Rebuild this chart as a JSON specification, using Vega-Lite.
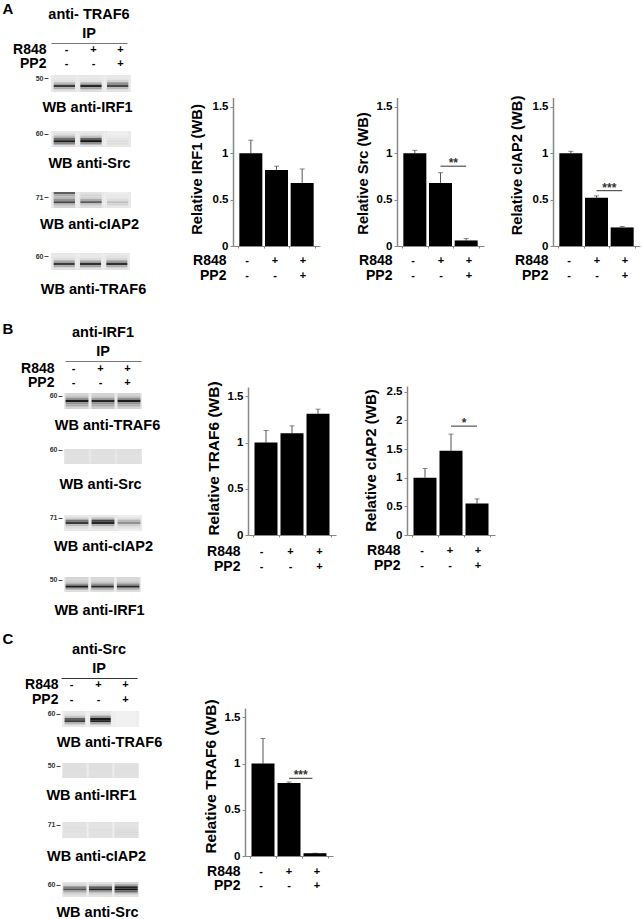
{"$schema":"https://vega.github.io/schema/vega-lite/v6.json","width":642,"height":919,"padding":0,"autosize":{"type":"none"},"background":"white",
"config":{"font":"Liberation Sans","view":{"stroke":null},"axis":{"grid":false,"labelFontWeight":"bold","titleFontWeight":"bold","labelColor":"#000","titleColor":"#000","labelOverlap":false,"labelFlush":false},"text":{"color":"#000"}},
"datasets":{
"signs":[{"l":1,"row":"R848","s":"-"},{"l":2,"row":"R848","s":"+"},{"l":3,"row":"R848","s":"+"},{"l":1,"row":"PP2","s":"-"},{"l":2,"row":"PP2","s":"-"},{"l":3,"row":"PP2","s":"+"}],
"bars":[
{"c":"A1","lane":1,"v":1,"top":1.14},{"c":"A1","lane":2,"v":0.82,"top":0.86},{"c":"A1","lane":3,"v":0.68,"top":0.83},
{"c":"A2","lane":1,"v":1,"top":1.03},{"c":"A2","lane":2,"v":0.68,"top":0.79},{"c":"A2","lane":3,"v":0.06,"top":0.08},
{"c":"A3","lane":1,"v":1,"top":1.02},{"c":"A3","lane":2,"v":0.52,"top":0.54},{"c":"A3","lane":3,"v":0.2,"top":0.21},
{"c":"B1","lane":1,"v":1,"top":1.13},{"c":"B1","lane":2,"v":1.1,"top":1.18},{"c":"B1","lane":3,"v":1.31,"top":1.36},
{"c":"B2","lane":1,"v":1,"top":1.16},{"c":"B2","lane":2,"v":1.47,"top":1.76},{"c":"B2","lane":3,"v":0.55,"top":0.63},
{"c":"C1","lane":1,"v":1,"top":1.27},{"c":"C1","lane":2,"v":0.79,"top":0.8},{"c":"C1","lane":3,"v":0.03,"top":0.03}],
"sig":[{"c":"A2","from":2,"to":3,"mid":2.5,"p":0.86,"stars":"**"},{"c":"A3","from":2,"to":3,"mid":2.5,"p":0.596,"stars":"***"},{"c":"B2","from":2,"to":3,"mid":2.5,"p":1.9,"stars":"*"},{"c":"C1","from":2,"to":2.9,"mid":2.45,"p":0.84,"stars":"***"}],
"blots":[
{"p":"A1","l":1,"r":0,"v":8},{"p":"A1","l":1,"r":1,"v":8},{"p":"A1","l":1,"r":2,"v":10},{"p":"A1","l":1,"r":3,"v":25},{"p":"A1","l":1,"r":4,"v":75},{"p":"A1","l":1,"r":5,"v":30},{"p":"A1","l":1,"r":6,"v":10},
{"p":"A1","l":2,"r":0,"v":8},{"p":"A1","l":2,"r":1,"v":8},{"p":"A1","l":2,"r":2,"v":10},{"p":"A1","l":2,"r":3,"v":28},{"p":"A1","l":2,"r":4,"v":85},{"p":"A1","l":2,"r":5,"v":35},{"p":"A1","l":2,"r":6,"v":12},
{"p":"A1","l":3,"r":0,"v":8},{"p":"A1","l":3,"r":1,"v":8},{"p":"A1","l":3,"r":2,"v":15},{"p":"A1","l":3,"r":3,"v":40},{"p":"A1","l":3,"r":4,"v":70},{"p":"A1","l":3,"r":5,"v":25},{"p":"A1","l":3,"r":6,"v":10},
{"p":"A2","l":1,"r":0,"v":8},{"p":"A2","l":1,"r":1,"v":12},{"p":"A2","l":1,"r":2,"v":25},{"p":"A2","l":1,"r":3,"v":55},{"p":"A2","l":1,"r":4,"v":90},{"p":"A2","l":1,"r":5,"v":45},{"p":"A2","l":1,"r":6,"v":12},
{"p":"A2","l":2,"r":0,"v":8},{"p":"A2","l":2,"r":1,"v":10},{"p":"A2","l":2,"r":2,"v":22},{"p":"A2","l":2,"r":3,"v":60},{"p":"A2","l":2,"r":4,"v":95},{"p":"A2","l":2,"r":5,"v":40},{"p":"A2","l":2,"r":6,"v":10},
{"p":"A2","l":3,"r":0,"v":6},{"p":"A2","l":3,"r":1,"v":6},{"p":"A2","l":3,"r":2,"v":7},{"p":"A2","l":3,"r":3,"v":9},{"p":"A2","l":3,"r":4,"v":12},{"p":"A2","l":3,"r":5,"v":12},{"p":"A2","l":3,"r":6,"v":8},
{"p":"A3","l":1,"r":0,"v":60},{"p":"A3","l":1,"r":1,"v":30},{"p":"A3","l":1,"r":2,"v":25},{"p":"A3","l":1,"r":3,"v":40},{"p":"A3","l":1,"r":4,"v":70},{"p":"A3","l":1,"r":5,"v":25},{"p":"A3","l":1,"r":6,"v":15},
{"p":"A3","l":2,"r":0,"v":10},{"p":"A3","l":2,"r":1,"v":15},{"p":"A3","l":2,"r":2,"v":15},{"p":"A3","l":2,"r":3,"v":30},{"p":"A3","l":2,"r":4,"v":60},{"p":"A3","l":2,"r":5,"v":20},{"p":"A3","l":2,"r":6,"v":12},
{"p":"A3","l":3,"r":0,"v":6},{"p":"A3","l":3,"r":1,"v":8},{"p":"A3","l":3,"r":2,"v":8},{"p":"A3","l":3,"r":3,"v":12},{"p":"A3","l":3,"r":4,"v":22},{"p":"A3","l":3,"r":5,"v":15},{"p":"A3","l":3,"r":6,"v":8},
{"p":"A4","l":1,"r":0,"v":8},{"p":"A4","l":1,"r":1,"v":8},{"p":"A4","l":1,"r":2,"v":12},{"p":"A4","l":1,"r":3,"v":30},{"p":"A4","l":1,"r":4,"v":75},{"p":"A4","l":1,"r":5,"v":30},{"p":"A4","l":1,"r":6,"v":10},
{"p":"A4","l":2,"r":0,"v":8},{"p":"A4","l":2,"r":1,"v":8},{"p":"A4","l":2,"r":2,"v":12},{"p":"A4","l":2,"r":3,"v":30},{"p":"A4","l":2,"r":4,"v":80},{"p":"A4","l":2,"r":5,"v":35},{"p":"A4","l":2,"r":6,"v":10},
{"p":"A4","l":3,"r":0,"v":8},{"p":"A4","l":3,"r":1,"v":10},{"p":"A4","l":3,"r":2,"v":14},{"p":"A4","l":3,"r":3,"v":35},{"p":"A4","l":3,"r":4,"v":80},{"p":"A4","l":3,"r":5,"v":30},{"p":"A4","l":3,"r":6,"v":10},
{"p":"B1","l":1,"r":0,"v":15},{"p":"B1","l":1,"r":1,"v":20},{"p":"B1","l":1,"r":2,"v":40},{"p":"B1","l":1,"r":3,"v":90},{"p":"B1","l":1,"r":4,"v":40},{"p":"B1","l":1,"r":5,"v":30},{"p":"B1","l":1,"r":6,"v":15},
{"p":"B1","l":2,"r":0,"v":15},{"p":"B1","l":2,"r":1,"v":18},{"p":"B1","l":2,"r":2,"v":35},{"p":"B1","l":2,"r":3,"v":85},{"p":"B1","l":2,"r":4,"v":40},{"p":"B1","l":2,"r":5,"v":30},{"p":"B1","l":2,"r":6,"v":18},
{"p":"B1","l":3,"r":0,"v":15},{"p":"B1","l":3,"r":1,"v":20},{"p":"B1","l":3,"r":2,"v":40},{"p":"B1","l":3,"r":3,"v":90},{"p":"B1","l":3,"r":4,"v":40},{"p":"B1","l":3,"r":5,"v":28},{"p":"B1","l":3,"r":6,"v":15},
{"p":"B2","l":1,"r":0,"v":11},{"p":"B2","l":1,"r":1,"v":11},{"p":"B2","l":1,"r":2,"v":11},{"p":"B2","l":1,"r":3,"v":11},{"p":"B2","l":1,"r":4,"v":11},{"p":"B2","l":1,"r":5,"v":11},{"p":"B2","l":1,"r":6,"v":11},
{"p":"B2","l":2,"r":0,"v":11},{"p":"B2","l":2,"r":1,"v":11},{"p":"B2","l":2,"r":2,"v":11},{"p":"B2","l":2,"r":3,"v":11},{"p":"B2","l":2,"r":4,"v":11},{"p":"B2","l":2,"r":5,"v":11},{"p":"B2","l":2,"r":6,"v":11},
{"p":"B2","l":3,"r":0,"v":11},{"p":"B2","l":3,"r":1,"v":11},{"p":"B2","l":3,"r":2,"v":11},{"p":"B2","l":3,"r":3,"v":11},{"p":"B2","l":3,"r":4,"v":11},{"p":"B2","l":3,"r":5,"v":11},{"p":"B2","l":3,"r":6,"v":11},
{"p":"B3","l":1,"r":0,"v":8},{"p":"B3","l":1,"r":1,"v":15},{"p":"B3","l":1,"r":2,"v":50},{"p":"B3","l":1,"r":3,"v":75},{"p":"B3","l":1,"r":4,"v":25},{"p":"B3","l":1,"r":5,"v":12},{"p":"B3","l":1,"r":6,"v":8},
{"p":"B3","l":2,"r":0,"v":8},{"p":"B3","l":2,"r":1,"v":20},{"p":"B3","l":2,"r":2,"v":70},{"p":"B3","l":2,"r":3,"v":85},{"p":"B3","l":2,"r":4,"v":30},{"p":"B3","l":2,"r":5,"v":12},{"p":"B3","l":2,"r":6,"v":8},
{"p":"B3","l":3,"r":0,"v":6},{"p":"B3","l":3,"r":1,"v":10},{"p":"B3","l":3,"r":2,"v":25},{"p":"B3","l":3,"r":3,"v":40},{"p":"B3","l":3,"r":4,"v":18},{"p":"B3","l":3,"r":5,"v":10},{"p":"B3","l":3,"r":6,"v":6},
{"p":"B4","l":1,"r":0,"v":15},{"p":"B4","l":1,"r":1,"v":15},{"p":"B4","l":1,"r":2,"v":20},{"p":"B4","l":1,"r":3,"v":40},{"p":"B4","l":1,"r":4,"v":90},{"p":"B4","l":1,"r":5,"v":35},{"p":"B4","l":1,"r":6,"v":12},
{"p":"B4","l":2,"r":0,"v":14},{"p":"B4","l":2,"r":1,"v":14},{"p":"B4","l":2,"r":2,"v":20},{"p":"B4","l":2,"r":3,"v":40},{"p":"B4","l":2,"r":4,"v":85},{"p":"B4","l":2,"r":5,"v":30},{"p":"B4","l":2,"r":6,"v":12},
{"p":"B4","l":3,"r":0,"v":14},{"p":"B4","l":3,"r":1,"v":14},{"p":"B4","l":3,"r":2,"v":20},{"p":"B4","l":3,"r":3,"v":40},{"p":"B4","l":3,"r":4,"v":85},{"p":"B4","l":3,"r":5,"v":30},{"p":"B4","l":3,"r":6,"v":12},
{"p":"C1","l":1,"r":0,"v":8},{"p":"C1","l":1,"r":1,"v":10},{"p":"C1","l":1,"r":2,"v":20},{"p":"C1","l":1,"r":3,"v":60},{"p":"C1","l":1,"r":4,"v":75},{"p":"C1","l":1,"r":5,"v":25},{"p":"C1","l":1,"r":6,"v":8},
{"p":"C1","l":2,"r":0,"v":8},{"p":"C1","l":2,"r":1,"v":12},{"p":"C1","l":2,"r":2,"v":35},{"p":"C1","l":2,"r":3,"v":90},{"p":"C1","l":2,"r":4,"v":85},{"p":"C1","l":2,"r":5,"v":30},{"p":"C1","l":2,"r":6,"v":8},
{"p":"C1","l":3,"r":0,"v":5},{"p":"C1","l":3,"r":1,"v":5},{"p":"C1","l":3,"r":2,"v":5},{"p":"C1","l":3,"r":3,"v":5},{"p":"C1","l":3,"r":4,"v":5},{"p":"C1","l":3,"r":5,"v":5},{"p":"C1","l":3,"r":6,"v":5},
{"p":"C2","l":1,"r":0,"v":11},{"p":"C2","l":1,"r":1,"v":11},{"p":"C2","l":1,"r":2,"v":12},{"p":"C2","l":1,"r":3,"v":12},{"p":"C2","l":1,"r":4,"v":12},{"p":"C2","l":1,"r":5,"v":11},{"p":"C2","l":1,"r":6,"v":11},
{"p":"C2","l":2,"r":0,"v":11},{"p":"C2","l":2,"r":1,"v":11},{"p":"C2","l":2,"r":2,"v":12},{"p":"C2","l":2,"r":3,"v":12},{"p":"C2","l":2,"r":4,"v":11},{"p":"C2","l":2,"r":5,"v":11},{"p":"C2","l":2,"r":6,"v":11},
{"p":"C2","l":3,"r":0,"v":10},{"p":"C2","l":3,"r":1,"v":11},{"p":"C2","l":3,"r":2,"v":11},{"p":"C2","l":3,"r":3,"v":12},{"p":"C2","l":3,"r":4,"v":11},{"p":"C2","l":3,"r":5,"v":11},{"p":"C2","l":3,"r":6,"v":10},
{"p":"C3","l":1,"r":0,"v":10},{"p":"C3","l":1,"r":1,"v":10},{"p":"C3","l":1,"r":2,"v":11},{"p":"C3","l":1,"r":3,"v":10},{"p":"C3","l":1,"r":4,"v":11},{"p":"C3","l":1,"r":5,"v":10},{"p":"C3","l":1,"r":6,"v":10},
{"p":"C3","l":2,"r":0,"v":10},{"p":"C3","l":2,"r":1,"v":10},{"p":"C3","l":2,"r":2,"v":10},{"p":"C3","l":2,"r":3,"v":11},{"p":"C3","l":2,"r":4,"v":10},{"p":"C3","l":2,"r":5,"v":11},{"p":"C3","l":2,"r":6,"v":10},
{"p":"C3","l":3,"r":0,"v":10},{"p":"C3","l":3,"r":1,"v":10},{"p":"C3","l":3,"r":2,"v":11},{"p":"C3","l":3,"r":3,"v":12},{"p":"C3","l":3,"r":4,"v":13},{"p":"C3","l":3,"r":5,"v":13},{"p":"C3","l":3,"r":6,"v":11},
{"p":"C4","l":1,"r":0,"v":10},{"p":"C4","l":1,"r":1,"v":15},{"p":"C4","l":1,"r":2,"v":45},{"p":"C4","l":1,"r":3,"v":65},{"p":"C4","l":1,"r":4,"v":30},{"p":"C4","l":1,"r":5,"v":15},{"p":"C4","l":1,"r":6,"v":10},
{"p":"C4","l":2,"r":0,"v":10},{"p":"C4","l":2,"r":1,"v":20},{"p":"C4","l":2,"r":2,"v":60},{"p":"C4","l":2,"r":3,"v":85},{"p":"C4","l":2,"r":4,"v":35},{"p":"C4","l":2,"r":5,"v":15},{"p":"C4","l":2,"r":6,"v":10},
{"p":"C4","l":3,"r":0,"v":15},{"p":"C4","l":3,"r":1,"v":35},{"p":"C4","l":3,"r":2,"v":85},{"p":"C4","l":3,"r":3,"v":95},{"p":"C4","l":3,"r":4,"v":55},{"p":"C4","l":3,"r":5,"v":20},{"p":"C4","l":3,"r":6,"v":10}
]},
"resolve":{"scale":{"x":"independent","y":"independent"},"axis":{"x":"independent","y":"independent"}},
"layer":[
{"data":{"values":[{"t":"A"}]},"mark":{"type":"text","fontWeight":"bold","fontSize":15},"encoding":{"text":{"field":"t"},"x":{"field":"t","type":"nominal","scale":{"type":"band","range":[0,16],"padding":0},"axis":null},"y":{"field":"t","type":"nominal","scale":{"type":"band","range":[2,16],"padding":0},"axis":null}}},
{"data":{"values":[{"t":"B"}]},"mark":{"type":"text","fontWeight":"bold","fontSize":15},"encoding":{"text":{"field":"t"},"x":{"field":"t","type":"nominal","scale":{"type":"band","range":[0,16],"padding":0},"axis":null},"y":{"field":"t","type":"nominal","scale":{"type":"band","range":[322,336],"padding":0},"axis":null}}},
{"data":{"values":[{"t":"C"}]},"mark":{"type":"text","fontWeight":"bold","fontSize":15},"encoding":{"text":{"field":"t"},"x":{"field":"t","type":"nominal","scale":{"type":"band","range":[0,16],"padding":0},"axis":null},"y":{"field":"t","type":"nominal","scale":{"type":"band","range":[632,646],"padding":0},"axis":null}}},

{"data":{"values":[{"t":"anti- TRAF6","l":2,"row":1},{"t":"IP","l":2,"row":2}]},"mark":{"type":"text","fontWeight":"bold","fontSize":14.5},"encoding":{"text":{"field":"t"},"x":{"field":"l","type":"ordinal","scale":{"type":"band","domain":[1,2,3],"range":[51,127],"padding":0},"axis":{"orient":"bottom","offset":-876,"ticks":false,"labels":false,"title":null,"domainColor":"#777","domainWidth":1}},"y":{"field":"row","type":"ordinal","scale":{"type":"band","range":[5,43],"padding":0},"axis":null}}},
{"data":{"values":[{"t":"anti-IRF1","l":2,"row":1},{"t":"IP","l":2,"row":2}]},"mark":{"type":"text","fontWeight":"bold","fontSize":14.5},"encoding":{"text":{"field":"t"},"x":{"field":"l","type":"ordinal","scale":{"type":"band","domain":[1,2,3],"range":[65,141],"padding":0},"axis":{"orient":"bottom","offset":-558,"ticks":false,"labels":false,"title":null,"domainColor":"#777","domainWidth":1}},"y":{"field":"row","type":"ordinal","scale":{"type":"band","range":[323,361],"padding":0},"axis":null}}},
{"data":{"values":[{"t":"anti-Src","l":2,"row":1},{"t":"IP","l":2,"row":2}]},"mark":{"type":"text","fontWeight":"bold","fontSize":14.5},"encoding":{"text":{"field":"t"},"x":{"field":"l","type":"ordinal","scale":{"type":"band","domain":[1,2,3],"range":[61,137],"padding":0},"axis":{"orient":"bottom","offset":-241,"ticks":false,"labels":false,"title":null,"domainColor":"#333","domainWidth":1}},"y":{"field":"row","type":"ordinal","scale":{"type":"band","range":[641,678],"padding":0},"axis":null}}},

{"data":{"name":"signs"},"mark":{"type":"text","fontWeight":"bold","fontSize":11},"encoding":{"text":{"field":"s"},"x":{"field":"l","type":"ordinal","scale":{"type":"band","range":[53,134],"padding":0},"axis":null},"y":{"field":"row","type":"nominal","sort":["R848","PP2"],"scale":{"type":"band","range":[42.5,71.5],"padding":0},"axis":{"orient":"left","offset":-53,"domain":false,"ticks":false,"title":null,"labelPadding":7,"labelFontSize":14}}}},
{"data":{"name":"signs"},"mark":{"type":"text","fontWeight":"bold","fontSize":11},"encoding":{"text":{"field":"s"},"x":{"field":"l","type":"ordinal","scale":{"type":"band","range":[60,141],"padding":0},"axis":null},"y":{"field":"row","type":"nominal","sort":["R848","PP2"],"scale":{"type":"band","range":[361.5,390.5],"padding":0},"axis":{"orient":"left","offset":-60,"domain":false,"ticks":false,"title":null,"labelPadding":6,"labelFontSize":14}}}},
{"data":{"name":"signs"},"mark":{"type":"text","fontWeight":"bold","fontSize":11},"encoding":{"text":{"field":"s"},"x":{"field":"l","type":"ordinal","scale":{"type":"band","range":[58,139],"padding":0},"axis":null},"y":{"field":"row","type":"nominal","sort":["R848","PP2"],"scale":{"type":"band","range":[678,707],"padding":0},"axis":{"orient":"left","offset":-58,"domain":false,"ticks":false,"title":null,"labelPadding":0,"labelFontSize":14}}}},

{"data":{"name":"blots"},"transform":[{"filter":"datum.p=='A1'"}],"encoding":{"x":{"field":"l","type":"ordinal","scale":{"range":[51,131],"padding":0},"axis":{"orient":"bottom","offset":-827,"domain":false,"ticks":false,"labels":false,"title":"WB anti-IRF1","titleFontSize":14.5,"titleX":87,"titleY":15,"titleBaseline":"middle"}},"y":{"field":"r","type":"ordinal","scale":{"range":[75,92],"padding":0},"axis":{"orient":"left","offset":-48,"domain":false,"values":[1],"labelExpr":"'50'","title":null,"tickSize":4,"tickColor":"#444","labelFontSize":7,"labelPadding":1,"labelColor":"#333"}}},"layer":[{"mark":{"type":"rect","color":"#e8e8e8"}},{"mark":{"type":"rect","width":{"band":0.8}},"encoding":{"color":{"field":"v","type":"quantitative","scale":{"domain":[0,100],"range":["#ffffff","#000000"]},"legend":null}}}]},
{"data":{"name":"blots"},"transform":[{"filter":"datum.p=='A2'"}],"encoding":{"x":{"field":"l","type":"ordinal","scale":{"range":[51,131],"padding":0},"axis":{"orient":"bottom","offset":-772,"domain":false,"ticks":false,"labels":false,"title":"WB anti-Src","titleFontSize":14.5,"titleX":89,"titleY":16,"titleBaseline":"middle"}},"y":{"field":"r","type":"ordinal","scale":{"range":[131,147],"padding":0},"axis":{"orient":"left","offset":-48,"domain":false,"values":[1],"labelExpr":"'60'","title":null,"tickSize":4,"tickColor":"#444","labelFontSize":7,"labelPadding":1,"labelColor":"#333"}}},"layer":[{"mark":{"type":"rect","color":"#e8e8e8"}},{"mark":{"type":"rect","width":{"band":0.8}},"encoding":{"color":{"field":"v","type":"quantitative","scale":{"domain":[0,100],"range":["#ffffff","#000000"]},"legend":null}}}]},
{"data":{"name":"blots"},"transform":[{"filter":"datum.p=='A3'"}],"encoding":{"x":{"field":"l","type":"ordinal","scale":{"range":[51,131],"padding":0},"axis":{"orient":"bottom","offset":-711,"domain":false,"ticks":false,"labels":false,"title":"WB anti-cIAP2","titleFontSize":14.5,"titleX":89,"titleY":16,"titleBaseline":"middle"}},"y":{"field":"r","type":"ordinal","scale":{"range":[192,208],"padding":0},"axis":{"orient":"left","offset":-48,"domain":false,"values":[2],"labelExpr":"'71'","title":null,"tickSize":4,"tickColor":"#444","labelFontSize":7,"labelPadding":1,"labelColor":"#333"}}},"layer":[{"mark":{"type":"rect","color":"#e8e8e8"}},{"mark":{"type":"rect","width":{"band":0.8}},"encoding":{"color":{"field":"v","type":"quantitative","scale":{"domain":[0,100],"range":["#ffffff","#000000"]},"legend":null}}}]},
{"data":{"name":"blots"},"transform":[{"filter":"datum.p=='A4'"}],"encoding":{"x":{"field":"l","type":"ordinal","scale":{"range":[51,130],"padding":0},"axis":{"orient":"bottom","offset":-649,"domain":false,"ticks":false,"labels":false,"title":"WB anti-TRAF6","titleFontSize":14.5,"titleX":93,"titleY":19,"titleBaseline":"middle"}},"y":{"field":"r","type":"ordinal","scale":{"range":[253,270],"padding":0},"axis":{"orient":"left","offset":-48,"domain":false,"values":[1],"labelExpr":"'60'","title":null,"tickSize":4,"tickColor":"#444","labelFontSize":7,"labelPadding":1,"labelColor":"#333"}}},"layer":[{"mark":{"type":"rect","color":"#e8e8e8"}},{"mark":{"type":"rect","width":{"band":0.8}},"encoding":{"color":{"field":"v","type":"quantitative","scale":{"domain":[0,100],"range":["#ffffff","#000000"]},"legend":null}}}]},

{"data":{"name":"blots"},"transform":[{"filter":"datum.p=='B1'"}],"encoding":{"x":{"field":"l","type":"ordinal","scale":{"range":[64,142],"padding":0},"axis":{"orient":"bottom","offset":-510,"domain":false,"ticks":false,"labels":false,"title":"WB anti-TRAF6","titleFontSize":14.5,"titleX":107,"titleY":16,"titleBaseline":"middle"}},"y":{"field":"r","type":"ordinal","scale":{"range":[393,409],"padding":0},"axis":{"orient":"left","offset":-62,"domain":false,"values":[1],"labelExpr":"'60'","title":null,"tickSize":4,"tickColor":"#444","labelFontSize":7,"labelPadding":1,"labelColor":"#333"}}},"layer":[{"mark":{"type":"rect","color":"#e8e8e8"}},{"mark":{"type":"rect","width":{"band":0.88}},"encoding":{"color":{"field":"v","type":"quantitative","scale":{"domain":[0,100],"range":["#ffffff","#000000"]},"legend":null}}}]},
{"data":{"name":"blots"},"transform":[{"filter":"datum.p=='B2'"}],"encoding":{"x":{"field":"l","type":"ordinal","scale":{"range":[64,142],"padding":0},"axis":{"orient":"bottom","offset":-455,"domain":false,"ticks":false,"labels":false,"title":"WB anti-Src","titleFontSize":14.5,"titleX":100,"titleY":20,"titleBaseline":"middle"}},"y":{"field":"r","type":"ordinal","scale":{"range":[449,464],"padding":0},"axis":{"orient":"left","offset":-62,"domain":false,"values":[0],"labelExpr":"'60'","title":null,"tickSize":4,"tickColor":"#444","labelFontSize":7,"labelPadding":1,"labelColor":"#333"}}},"layer":[{"mark":{"type":"rect","color":"#e4e4e4"}},{"mark":{"type":"rect","width":{"band":0.88}},"encoding":{"color":{"field":"v","type":"quantitative","scale":{"domain":[0,100],"range":["#ffffff","#000000"]},"legend":null}}}]},
{"data":{"name":"blots"},"transform":[{"filter":"datum.p=='B3'"}],"encoding":{"x":{"field":"l","type":"ordinal","scale":{"range":[64,142],"padding":0},"axis":{"orient":"bottom","offset":-388,"domain":false,"ticks":false,"labels":false,"title":"WB anti-cIAP2","titleFontSize":14.5,"titleX":103,"titleY":15,"titleBaseline":"middle"}},"y":{"field":"r","type":"ordinal","scale":{"range":[515,531],"padding":0},"axis":{"orient":"left","offset":-62,"domain":false,"values":[1],"labelExpr":"'71'","title":null,"tickSize":4,"tickColor":"#444","labelFontSize":7,"labelPadding":1,"labelColor":"#333"}}},"layer":[{"mark":{"type":"rect","color":"#e8e8e8"}},{"mark":{"type":"rect","width":{"band":0.88}},"encoding":{"color":{"field":"v","type":"quantitative","scale":{"domain":[0,100],"range":["#ffffff","#000000"]},"legend":null}}}]},
{"data":{"name":"blots"},"transform":[{"filter":"datum.p=='B4'"}],"encoding":{"x":{"field":"l","type":"ordinal","scale":{"range":[64,141],"padding":0},"axis":{"orient":"bottom","offset":-327,"domain":false,"ticks":false,"labels":false,"title":"WB anti-IRF1","titleFontSize":14.5,"titleX":99,"titleY":18,"titleBaseline":"middle"}},"y":{"field":"r","type":"ordinal","scale":{"range":[577,592],"padding":0},"axis":{"orient":"left","offset":-62,"domain":false,"values":[1],"labelExpr":"'50'","title":null,"tickSize":4,"tickColor":"#444","labelFontSize":7,"labelPadding":1,"labelColor":"#333"}}},"layer":[{"mark":{"type":"rect","color":"#e8e8e8"}},{"mark":{"type":"rect","width":{"band":0.88}},"encoding":{"color":{"field":"v","type":"quantitative","scale":{"domain":[0,100],"range":["#ffffff","#000000"]},"legend":null}}}]},

{"data":{"name":"blots"},"transform":[{"filter":"datum.p=='C1'"}],"encoding":{"x":{"field":"l","type":"ordinal","scale":{"range":[62,139],"padding":0},"axis":{"orient":"bottom","offset":-192,"domain":false,"ticks":false,"labels":false,"title":"WB anti-TRAF6","titleFontSize":14.5,"titleX":109,"titleY":15,"titleBaseline":"middle"}},"y":{"field":"r","type":"ordinal","scale":{"range":[711,727],"padding":0},"axis":{"orient":"left","offset":-60,"domain":false,"values":[1],"labelExpr":"'60'","title":null,"tickSize":4,"tickColor":"#444","labelFontSize":7,"labelPadding":1,"labelColor":"#333"}}},"layer":[{"mark":{"type":"rect","color":"#ececec"}},{"mark":{"type":"rect","width":{"band":0.8}},"encoding":{"color":{"field":"v","type":"quantitative","scale":{"domain":[0,100],"range":["#ffffff","#000000"]},"legend":null}}}]},
{"data":{"name":"blots"},"transform":[{"filter":"datum.p=='C2'"}],"encoding":{"x":{"field":"l","type":"ordinal","scale":{"range":[62,139],"padding":0},"axis":{"orient":"bottom","offset":-141,"domain":false,"ticks":false,"labels":false,"title":"WB anti-IRF1","titleFontSize":14.5,"titleX":91,"titleY":17,"titleBaseline":"middle"}},"y":{"field":"r","type":"ordinal","scale":{"range":[763,778],"padding":0},"axis":{"orient":"left","offset":-60,"domain":false,"values":[1],"labelExpr":"'50'","title":null,"tickSize":4,"tickColor":"#444","labelFontSize":7,"labelPadding":1,"labelColor":"#333"}}},"layer":[{"mark":{"type":"rect","color":"#e6e6e6"}},{"mark":{"type":"rect","width":{"band":0.9}},"encoding":{"color":{"field":"v","type":"quantitative","scale":{"domain":[0,100],"range":["#ffffff","#000000"]},"legend":null}}}]},
{"data":{"name":"blots"},"transform":[{"filter":"datum.p=='C3'"}],"encoding":{"x":{"field":"l","type":"ordinal","scale":{"range":[62,139],"padding":0},"axis":{"orient":"bottom","offset":-81,"domain":false,"ticks":false,"labels":false,"title":"WB anti-cIAP2","titleFontSize":14.5,"titleX":96,"titleY":18,"titleBaseline":"middle"}},"y":{"field":"r","type":"ordinal","scale":{"range":[822,838],"padding":0},"axis":{"orient":"left","offset":-60,"domain":false,"values":[1],"labelExpr":"'71'","title":null,"tickSize":4,"tickColor":"#444","labelFontSize":7,"labelPadding":1,"labelColor":"#333"}}},"layer":[{"mark":{"type":"rect","color":"#e8e8e8"}},{"mark":{"type":"rect","width":{"band":0.9}},"encoding":{"color":{"field":"v","type":"quantitative","scale":{"domain":[0,100],"range":["#ffffff","#000000"]},"legend":null}}}]},
{"data":{"name":"blots"},"transform":[{"filter":"datum.p=='C4'"}],"encoding":{"x":{"field":"l","type":"ordinal","scale":{"range":[62,139],"padding":0},"axis":{"orient":"bottom","offset":-22,"domain":false,"ticks":false,"labels":false,"title":"WB anti-Src","titleFontSize":14.5,"titleX":97,"titleY":15,"titleBaseline":"middle"}},"y":{"field":"r","type":"ordinal","scale":{"range":[882,897],"padding":0},"axis":{"orient":"left","offset":-60,"domain":false,"values":[1],"labelExpr":"'60'","title":null,"tickSize":4,"tickColor":"#444","labelFontSize":7,"labelPadding":1,"labelColor":"#333"}}},"layer":[{"mark":{"type":"rect","color":"#e8e8e8"}},{"mark":{"type":"rect","width":{"band":0.9}},"encoding":{"color":{"field":"v","type":"quantitative","scale":{"domain":[0,100],"range":["#ffffff","#000000"]},"legend":null}}}]},

{"data":{"name":"bars"},"transform":[{"filter":"datum.c=='A1'"}],"encoding":{"x":{"field":"lane","type":"quantitative","scale":{"domain":[0.5,3.5],"range":[233,320]},"axis":{"orient":"bottom","offset":-673,"values":[0.5,1.5,2.5,3.5],"labels":false,"tickSize":2,"title":null,"domainColor":"#888","tickColor":"#888"}}},"layer":[
{"mark":{"type":"rule","color":"#555"},"encoding":{"y":{"field":"v","type":"quantitative","scale":{"domain":[0,1.5],"range":[246,97.5]},"axis":{"orient":"left","offset":-233,"values":[0,0.5,1,1.5],"format":"~g","tickSize":3,"labelPadding":2,"labelFontSize":11.5,"domainColor":"#888","tickColor":"#888","domainWidth":1.5,"title":"Relative IRF1 (WB)","titleFontSize":14.7,"titleX":-36,"titleY":169,"titleBaseline":"middle"}},"y2":{"field":"top"}}},
{"mark":{"type":"tick","orient":"horizontal","size":5,"thickness":1,"color":"#555"},"encoding":{"y":{"field":"top","type":"quantitative"}}},
{"mark":{"type":"bar","orient":"vertical","size":23,"color":"#000"},"encoding":{"y":{"field":"v","type":"quantitative","stack":null}}}]},
{"data":{"name":"signs"},"mark":{"type":"text","fontWeight":"bold","fontSize":11},"encoding":{"text":{"field":"s"},"x":{"field":"l","type":"ordinal","scale":{"type":"band","range":[233,317],"padding":0},"axis":null},"y":{"field":"row","type":"nominal","sort":["R848","PP2"],"scale":{"type":"band","range":[254,283],"padding":0},"axis":{"orient":"left","offset":-233,"domain":false,"ticks":false,"title":null,"labelPadding":7,"labelFontSize":14}}}},

{"data":{"name":"bars"},"transform":[{"filter":"datum.c=='A2'"}],"encoding":{"x":{"field":"lane","type":"quantitative","scale":{"domain":[0.5,3.5],"range":[397,484]},"axis":{"orient":"bottom","offset":-673,"values":[0.5,1.5,2.5,3.5],"labels":false,"tickSize":2,"title":null,"domainColor":"#888","tickColor":"#888"}}},"layer":[
{"mark":{"type":"rule","color":"#555"},"encoding":{"y":{"field":"v","type":"quantitative","scale":{"domain":[0,1.5],"range":[246,97.5]},"axis":{"orient":"left","offset":-397,"values":[0,0.5,1,1.5],"format":"~g","tickSize":3,"labelPadding":2,"labelFontSize":11.5,"domainColor":"#888","tickColor":"#888","domainWidth":1.5,"title":"Relative Src (WB)","titleFontSize":14.7,"titleX":-34,"titleY":173,"titleBaseline":"middle"}},"y2":{"field":"top"}}},
{"mark":{"type":"tick","orient":"horizontal","size":5,"thickness":1,"color":"#555"},"encoding":{"y":{"field":"top","type":"quantitative"}}},
{"mark":{"type":"bar","orient":"vertical","size":23,"color":"#000"},"encoding":{"y":{"field":"v","type":"quantitative","stack":null}}},
{"data":{"name":"sig"},"transform":[{"filter":"datum.c=='A2'"}],"mark":{"type":"rule","color":"#333"},"encoding":{"x":{"field":"from","type":"quantitative"},"x2":{"field":"to"},"y":{"field":"p","type":"quantitative"}}},
{"data":{"name":"sig"},"transform":[{"filter":"datum.c=='A2'"}],"mark":{"type":"text","fontWeight":"bold","fontSize":12,"baseline":"middle","dy":-3,"color":"#333"},"encoding":{"x":{"field":"mid","type":"quantitative"},"y":{"field":"p","type":"quantitative"},"text":{"field":"stars"}}}]},
{"data":{"name":"signs"},"mark":{"type":"text","fontWeight":"bold","fontSize":11},"encoding":{"text":{"field":"s"},"x":{"field":"l","type":"ordinal","scale":{"type":"band","range":[399,483],"padding":0},"axis":null},"y":{"field":"row","type":"nominal","sort":["R848","PP2"],"scale":{"type":"band","range":[254,283],"padding":0},"axis":{"orient":"left","offset":-399,"domain":false,"ticks":false,"title":null,"labelPadding":7,"labelFontSize":14}}}},

{"data":{"name":"bars"},"transform":[{"filter":"datum.c=='A3'"}],"encoding":{"x":{"field":"lane","type":"quantitative","scale":{"domain":[0.5,3.5],"range":[553,640]},"axis":{"orient":"bottom","offset":-673,"values":[0.5,1.5,2.5,3.5],"labels":false,"tickSize":2,"title":null,"domainColor":"#888","tickColor":"#888"}}},"layer":[
{"mark":{"type":"rule","color":"#555"},"encoding":{"y":{"field":"v","type":"quantitative","scale":{"domain":[0,1.5],"range":[246,97.5]},"axis":{"orient":"left","offset":-553,"values":[0,0.5,1,1.5],"format":"~g","tickSize":3,"labelPadding":2,"labelFontSize":11.5,"domainColor":"#888","tickColor":"#888","domainWidth":1.5,"title":"Relative cIAP2 (WB)","titleFontSize":14.7,"titleX":-36,"titleY":165,"titleBaseline":"middle"}},"y2":{"field":"top"}}},
{"mark":{"type":"tick","orient":"horizontal","size":5,"thickness":1,"color":"#555"},"encoding":{"y":{"field":"top","type":"quantitative"}}},
{"mark":{"type":"bar","orient":"vertical","size":23,"color":"#000"},"encoding":{"y":{"field":"v","type":"quantitative","stack":null}}},
{"data":{"name":"sig"},"transform":[{"filter":"datum.c=='A3'"}],"mark":{"type":"rule","color":"#333"},"encoding":{"x":{"field":"from","type":"quantitative"},"x2":{"field":"to"},"y":{"field":"p","type":"quantitative"}}},
{"data":{"name":"sig"},"transform":[{"filter":"datum.c=='A3'"}],"mark":{"type":"text","fontWeight":"bold","fontSize":12,"baseline":"middle","dy":-3,"color":"#333"},"encoding":{"x":{"field":"mid","type":"quantitative"},"y":{"field":"p","type":"quantitative"},"text":{"field":"stars"}}}]},
{"data":{"name":"signs"},"mark":{"type":"text","fontWeight":"bold","fontSize":11},"encoding":{"text":{"field":"s"},"x":{"field":"l","type":"ordinal","scale":{"type":"band","range":[555,639],"padding":0},"axis":null},"y":{"field":"row","type":"nominal","sort":["R848","PP2"],"scale":{"type":"band","range":[254,283],"padding":0},"axis":{"orient":"left","offset":-555,"domain":false,"ticks":false,"title":null,"labelPadding":7,"labelFontSize":14}}}},

{"data":{"name":"bars"},"transform":[{"filter":"datum.c=='B1'"}],"encoding":{"x":{"field":"lane","type":"quantitative","scale":{"domain":[0.5,3.5],"range":[248,336]},"axis":{"orient":"bottom","offset":-384,"values":[0.5,1.5,2.5,3.5],"labels":false,"tickSize":2,"title":null,"domainColor":"#888","tickColor":"#888"}}},"layer":[
{"mark":{"type":"rule","color":"#555"},"encoding":{"y":{"field":"v","type":"quantitative","scale":{"domain":[0,1.5],"range":[535,387]},"axis":{"orient":"left","offset":-248,"values":[0,0.5,1,1.5],"format":"~g","tickSize":3,"labelPadding":2,"labelFontSize":11.5,"domainColor":"#888","tickColor":"#888","domainWidth":1.5,"title":"Relative TRAF6 (WB)","titleFontSize":15.5,"titleX":-35,"titleY":458,"titleBaseline":"middle"}},"y2":{"field":"top"}}},
{"mark":{"type":"tick","orient":"horizontal","size":5,"thickness":1,"color":"#555"},"encoding":{"y":{"field":"top","type":"quantitative"}}},
{"mark":{"type":"bar","orient":"vertical","size":23,"color":"#000"},"encoding":{"y":{"field":"v","type":"quantitative","stack":null}}}]},
{"data":{"name":"signs"},"mark":{"type":"text","fontWeight":"bold","fontSize":11},"encoding":{"text":{"field":"s"},"x":{"field":"l","type":"ordinal","scale":{"type":"band","range":[247,334],"padding":0},"axis":null},"y":{"field":"row","type":"nominal","sort":["R848","PP2"],"scale":{"type":"band","range":[544.5,574.5],"padding":0},"axis":{"orient":"left","offset":-247,"domain":false,"ticks":false,"title":null,"labelPadding":7,"labelFontSize":14}}}},

{"data":{"name":"bars"},"transform":[{"filter":"datum.c=='B2'"}],"encoding":{"x":{"field":"lane","type":"quantitative","scale":{"domain":[0.5,3.5],"range":[407,495]},"axis":{"orient":"bottom","offset":-384,"values":[0.5,1.5,2.5,3.5],"labels":false,"tickSize":2,"title":null,"domainColor":"#888","tickColor":"#888"}}},"layer":[
{"mark":{"type":"rule","color":"#555"},"encoding":{"y":{"field":"v","type":"quantitative","scale":{"domain":[0,2.5],"range":[535,386]},"axis":{"orient":"left","offset":-407,"values":[0,0.5,1,1.5,2,2.5],"format":"~g","tickSize":3,"labelPadding":2,"labelFontSize":11.5,"domainColor":"#888","tickColor":"#888","domainWidth":1.5,"title":"Relative cIAP2 (WB)","titleFontSize":15,"titleX":-37,"titleY":460,"titleBaseline":"middle"}},"y2":{"field":"top"}}},
{"mark":{"type":"tick","orient":"horizontal","size":5,"thickness":1,"color":"#555"},"encoding":{"y":{"field":"top","type":"quantitative"}}},
{"mark":{"type":"bar","orient":"vertical","size":23,"color":"#000"},"encoding":{"y":{"field":"v","type":"quantitative","stack":null}}},
{"data":{"name":"sig"},"transform":[{"filter":"datum.c=='B2'"}],"mark":{"type":"rule","color":"#333"},"encoding":{"x":{"field":"from","type":"quantitative"},"x2":{"field":"to"},"y":{"field":"p","type":"quantitative"}}},
{"data":{"name":"sig"},"transform":[{"filter":"datum.c=='B2'"}],"mark":{"type":"text","fontWeight":"bold","fontSize":12,"baseline":"middle","dy":-3,"color":"#333"},"encoding":{"x":{"field":"mid","type":"quantitative"},"y":{"field":"p","type":"quantitative"},"text":{"field":"stars"}}}]},
{"data":{"name":"signs"},"mark":{"type":"text","fontWeight":"bold","fontSize":11},"encoding":{"text":{"field":"s"},"x":{"field":"l","type":"ordinal","scale":{"type":"band","range":[408,492],"padding":0},"axis":null},"y":{"field":"row","type":"nominal","sort":["R848","PP2"],"scale":{"type":"band","range":[544,573],"padding":0},"axis":{"orient":"left","offset":-408,"domain":false,"ticks":false,"title":null,"labelPadding":8,"labelFontSize":14}}}},

{"data":{"name":"bars"},"transform":[{"filter":"datum.c=='C1'"}],"encoding":{"x":{"field":"lane","type":"quantitative","scale":{"domain":[0.5,3.5],"range":[245,333]},"axis":{"orient":"bottom","offset":-63,"values":[0.5,1.5,2.5,3.5],"labels":false,"tickSize":2,"title":null,"domainColor":"#888","tickColor":"#888"}}},"layer":[
{"mark":{"type":"rule","color":"#555"},"encoding":{"y":{"field":"v","type":"quantitative","scale":{"domain":[0,1.5],"range":[856,708]},"axis":{"orient":"left","offset":-245,"values":[0,0.5,1,1.5],"format":"~g","tickSize":3,"labelPadding":2,"labelFontSize":11.5,"domainColor":"#888","tickColor":"#888","domainWidth":1.5,"title":"Relative TRAF6 (WB)","titleFontSize":15.5,"titleX":-35,"titleY":776,"titleBaseline":"middle"}},"y2":{"field":"top"}}},
{"mark":{"type":"tick","orient":"horizontal","size":5,"thickness":1,"color":"#555"},"encoding":{"y":{"field":"top","type":"quantitative"}}},
{"mark":{"type":"bar","orient":"vertical","size":23,"color":"#000"},"encoding":{"y":{"field":"v","type":"quantitative","stack":null}}},
{"data":{"name":"sig"},"transform":[{"filter":"datum.c=='C1'"}],"mark":{"type":"rule","color":"#333"},"encoding":{"x":{"field":"from","type":"quantitative"},"x2":{"field":"to"},"y":{"field":"p","type":"quantitative"}}},
{"data":{"name":"sig"},"transform":[{"filter":"datum.c=='C1'"}],"mark":{"type":"text","fontWeight":"bold","fontSize":12,"baseline":"middle","dy":-3,"color":"#333"},"encoding":{"x":{"field":"mid","type":"quantitative"},"y":{"field":"p","type":"quantitative"},"text":{"field":"stars"}}}]},
{"data":{"name":"signs"},"mark":{"type":"text","fontWeight":"bold","fontSize":11},"encoding":{"text":{"field":"s"},"x":{"field":"l","type":"ordinal","scale":{"type":"band","range":[247,331],"padding":0},"axis":null},"y":{"field":"row","type":"nominal","sort":["R848","PP2"],"scale":{"type":"band","range":[864.5,893.5],"padding":0},"axis":{"orient":"left","offset":-247,"domain":false,"ticks":false,"title":null,"labelPadding":7,"labelFontSize":14}}}}
]}
